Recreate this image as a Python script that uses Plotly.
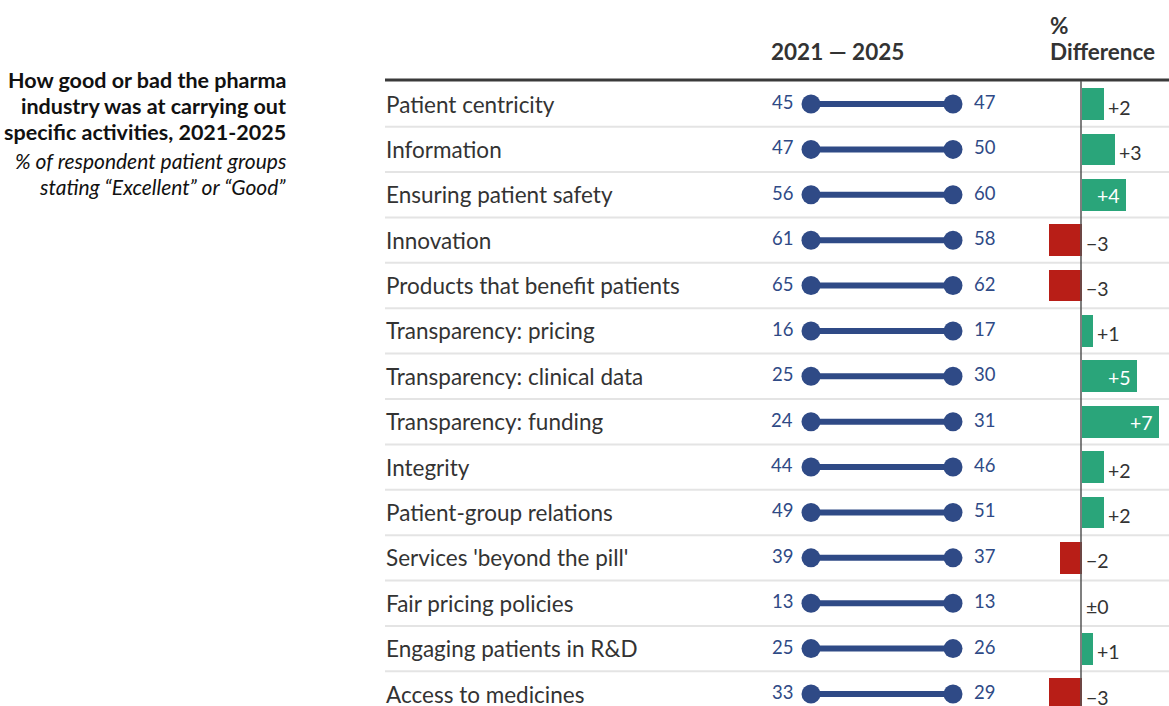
import plotly.graph_objects as go

activities = [
    "Patient centricity", "Information", "Ensuring patient safety", "Innovation",
    "Products that benefit patients", "Transparency: pricing", "Transparency: clinical data",
    "Transparency: funding", "Integrity", "Patient-group relations",
    "Services 'beyond the pill'", "Fair pricing policies", "Engaging patients in R&D",
    "Access to medicines",
]
years = [2021, 2025]
values_2021 = [45, 47, 56, 61, 65, 16, 25, 24, 44, 49, 39, 13, 25, 33]
values_2025 = [47, 50, 60, 58, 62, 17, 30, 31, 46, 51, 37, 13, 26, 29]
difference = [2, 3, 4, -3, -3, 1, 5, 7, 2, 2, -2, 0, 1, -3]

title_lines = ["How good or bad the pharma", "industry was at carrying out",
               "specific activities, 2021-2025"]
subtitle_lines = ["% of respondent patient groups", "stating “Excellent” or “Good”"]

W, H = 1169, 706
FONT = "Lato, 'Open Sans', sans-serif"
BLUE = "#2f4a86"
GREEN = "#2aa57a"
RED = "#b81e17"
DARK = "#333333"

n = len(activities)
rows = list(range(n))

pitch = 45.385
first_center = 104
y_top = -first_center / pitch
y_bot = (H - first_center) / pitch

fig = go.Figure()

xs, ys = [], []
for i in rows:
    xs += [years[0], years[1], None]
    ys += [i, i, None]
fig.add_trace(go.Scatter(
    x=xs, y=ys, mode="lines+markers", xaxis="x", yaxis="y",
    line=dict(color=BLUE, width=6),
    marker=dict(color=BLUE, size=19),
    cliponaxis=False, hoverinfo="skip", showlegend=False,
))

bar_colors = [GREEN if d > 0 else RED for d in difference]
fig.add_trace(go.Bar(
    x=difference, y=rows, orientation="h", xaxis="x2", yaxis="y",
    marker=dict(color=bar_colors, line=dict(width=0)), width=0.7,
    cliponaxis=False, hoverinfo="skip", showlegend=False,
))

annotations = []
shapes = []

for k, line in enumerate(title_lines):
    annotations.append(dict(
        text=f"<b>{line}</b>", xref="paper", yref="paper", x=288 / W, y=1 - (80 + 26 * k) / H,
        xanchor="right", yanchor="middle", showarrow=False,
        font=dict(family=FONT, size=21.5, color="#111111"),
    ))
for k, line in enumerate(subtitle_lines):
    annotations.append(dict(
        text=f"<i>{line}</i>", xref="paper", yref="paper", x=288 / W, y=1 - (161 + 26 * k) / H,
        xanchor="right", yanchor="middle", showarrow=False,
        font=dict(family=FONT, size=21, color="#111111"),
    ))

annotations.append(dict(
    text="<b>2021 — 2025</b>", xref="paper", yref="paper", x=769 / W, y=1 - 52 / H,
    xanchor="left", yanchor="middle", showarrow=False,
    font=dict(family=FONT, size=22.5, color=DARK),
))
annotations.append(dict(
    text="<b>%</b>", xref="paper", yref="paper", x=1048 / W, y=1 - 25 / H,
    xanchor="left", yanchor="middle", showarrow=False,
    font=dict(family=FONT, size=22.5, color=DARK),
))
annotations.append(dict(
    text="<b>Difference</b>", xref="paper", yref="paper", x=1048 / W, y=1 - 52 / H,
    xanchor="left", yanchor="middle", showarrow=False,
    font=dict(family=FONT, size=22.5, color=DARK),
))

for i, name in enumerate(activities):
    annotations.append(dict(
        text=name, xref="paper", yref="y", x=384 / W, y=i, xanchor="left", yanchor="middle",
        showarrow=False, font=dict(family=FONT, size=22.5, color=DARK),
    ))
    annotations.append(dict(
        text=str(values_2021[i]), xref="x", yref="y", x=years[0], y=i, xanchor="right",
        yanchor="middle", xshift=-16, yshift=2, showarrow=False,
        font=dict(family=FONT, size=18.5, color=BLUE),
    ))
    annotations.append(dict(
        text=str(values_2025[i]), xref="x", yref="y", x=years[1], y=i, xanchor="left",
        yanchor="middle", xshift=19, yshift=2, showarrow=False,
        font=dict(family=FONT, size=18.5, color=BLUE),
    ))
    d = difference[i]
    if d > 0:
        lab = f"+{d}"
    elif d < 0:
        lab = f"\u2212{-d}"
    else:
        lab = "\u00b10"
    if d >= 4:
        annotations.append(dict(
            text=lab, xref="x2", yref="y", x=d, y=i, xanchor="right", yanchor="middle",
            xshift=-3, yshift=-1, showarrow=False, font=dict(family=FONT, size=19.5, color="white"),
        ))
    else:
        annotations.append(dict(
            text=lab, xref="x2", yref="y", x=max(d, 0), y=i, xanchor="left", yanchor="middle",
            xshift=3, yshift=-3, showarrow=False, font=dict(family=FONT, size=19.5, color=DARK),
        ))
    if i < n - 1:
        shapes.append(dict(
            type="line", xref="paper", yref="y", x0=385 / W, x1=1, y0=i + 0.5, y1=i + 0.5,
            line=dict(color="#e4e4e4", width=2), layer="below",
        ))

shapes.append(dict(
    type="line", xref="paper", yref="paper", x0=385 / W, x1=1, y0=1 - 80 / H, y1=1 - 80 / H,
    line=dict(color="#3a3a3a", width=3),
))
shapes.append(dict(
    type="line", xref="x2", yref="paper", x0=0, x1=0, y0=0, y1=1 - 81 / H,
    line=dict(color="#555555", width=1.5), layer="above",
))

fig.update_layout(
    width=W, height=H, margin=dict(l=0, r=0, t=0, b=0),
    paper_bgcolor="white", plot_bgcolor="rgba(0,0,0,0)",
    xaxis=dict(domain=[811 / W, 953 / W], range=[2021, 2025], visible=False, fixedrange=True),
    xaxis2=dict(domain=[(1081 - 3.5 * 11) / W, 1], range=[-3.5, 8.0], visible=False,
                anchor="y", fixedrange=True),
    yaxis=dict(domain=[0, 1], range=[y_bot, y_top], visible=False, fixedrange=True),
    annotations=annotations, shapes=shapes,
    bargap=0,
)
fig.update_xaxes(showgrid=False, zeroline=False)
fig.update_yaxes(showgrid=False, zeroline=False)

fig.write_html(
    "out.html",
    config={"displayModeBar": False},
    post_script="document.body.style.margin='0';document.body.style.overflow='hidden';",
)
